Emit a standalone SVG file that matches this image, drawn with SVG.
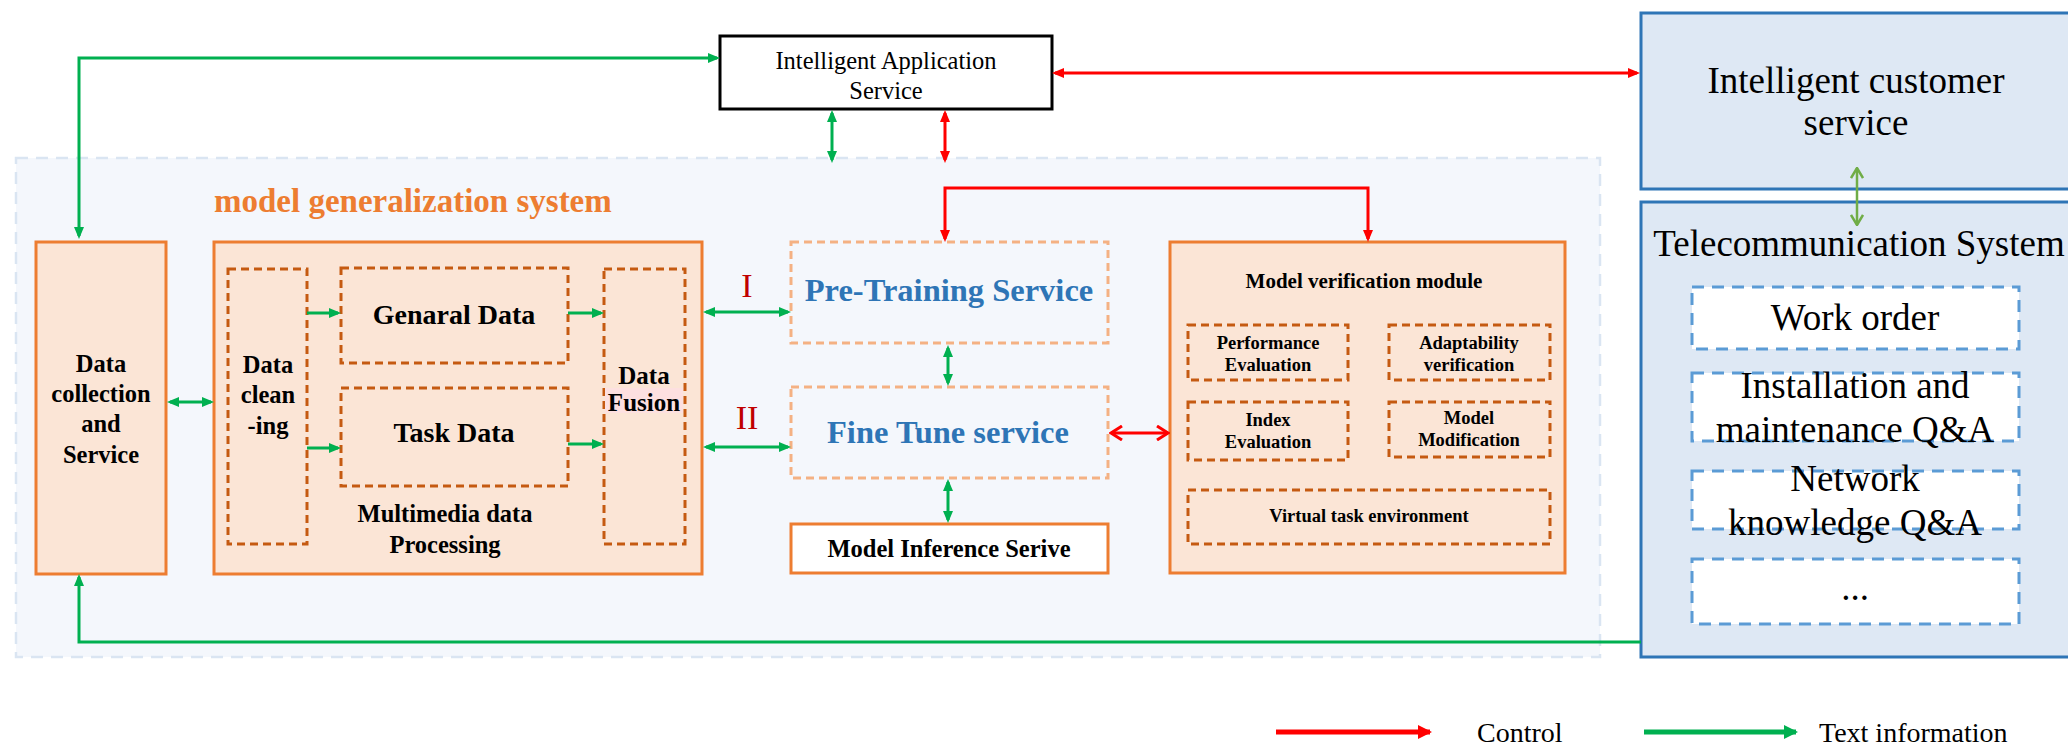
<svg xmlns="http://www.w3.org/2000/svg" width="2068" height="746" viewBox="0 0 2068 746">
  <style>
    .serif { font-family: "Liberation Serif", "Times New Roman", serif; }
    .c { text-anchor: middle; dominant-baseline: central; }
    .b { font-weight: bold; }
    .solidbox { fill: #fbe5d6; stroke: #ed7d31; stroke-width: 3; }
    .inner { fill: none; stroke: #c55a11; stroke-width: 3; stroke-dasharray: 8 5; }
    .svc { fill: none; stroke: #f4b183; stroke-width: 3; stroke-dasharray: 8 5; }
    .bluebox { fill: #dee8f4; stroke: #2e75b6; stroke-width: 3; }
    .item { fill: #ffffff; stroke: #5b9bd5; stroke-width: 3; stroke-dasharray: 12 8; }
    .g { fill: none; stroke: #00b050; stroke-width: 3; }
    .r { fill: none; stroke: #ff0000; stroke-width: 3; }
  </style>
  <defs>
    <marker id="ga" viewBox="0 0 12 10" refX="9" refY="5" markerWidth="12" markerHeight="10" markerUnits="userSpaceOnUse" orient="auto-start-reverse">
      <path d="M0,0 L12,5 L0,10 z" fill="#00b050"/>
    </marker>
    <marker id="ra" viewBox="0 0 12 10" refX="9" refY="5" markerWidth="12" markerHeight="10" markerUnits="userSpaceOnUse" orient="auto-start-reverse">
      <path d="M0,0 L12,5 L0,10 z" fill="#ff0000"/>
    </marker>
    <marker id="rv" viewBox="0 0 14 16" refX="12" refY="8" markerWidth="14" markerHeight="16" markerUnits="userSpaceOnUse" orient="auto-start-reverse">
      <path d="M1,1 L12,8 L1,15" fill="none" stroke="#ff0000" stroke-width="3"/>
    </marker>
    <marker id="lv" viewBox="0 0 12 14" refX="11" refY="7" markerWidth="12" markerHeight="14" markerUnits="userSpaceOnUse" orient="auto-start-reverse">
      <path d="M1,1 L11,7 L1,13" fill="none" stroke="#70ad47" stroke-width="2.5"/>
    </marker>
    <marker id="la_r" viewBox="0 0 14 14" refX="12" refY="7" markerWidth="14" markerHeight="14" markerUnits="userSpaceOnUse" orient="auto">
      <path d="M0,0 L14,7 L0,14 z" fill="#ff0000"/>
    </marker>
    <marker id="la_g" viewBox="0 0 14 14" refX="12" refY="7" markerWidth="14" markerHeight="14" markerUnits="userSpaceOnUse" orient="auto">
      <path d="M0,0 L14,7 L0,14 z" fill="#00b050"/>
    </marker>
  </defs>

  <rect width="2068" height="746" fill="#ffffff"/>

  <!-- model generalization system region -->
  <g id="model-generalization-system">
    <rect x="16" y="158" width="1584" height="499" fill="#f4f7fc" stroke="#dae5f2" stroke-width="2.5" stroke-dasharray="12 8"/>
    <text class="serif b" x="214" y="212" font-size="33" fill="#ed7d31">model generalization system</text>
  </g>

  <g id="intelligent-application-service">
    <rect x="720" y="36" width="332" height="73" fill="#ffffff" stroke="#000000" stroke-width="3"/>
    <text class="serif c" x="886" y="60" font-size="24.5">Intelligent Application</text>
    <text class="serif c" x="886" y="90" font-size="24.5">Service</text>
  </g>

  <g id="intelligent-customer-service">
    <rect class="bluebox" x="1641" y="13" width="440" height="176"/>
    <text class="serif c" x="1856" y="80" font-size="37">Intelligent customer</text>
    <text class="serif c" x="1856" y="122" font-size="37">service</text>
  </g>

  <g id="telecommunication-system">
    <rect class="bluebox" x="1641" y="202" width="440" height="455"/>
    <text class="serif c" x="1859" y="243" font-size="37">Telecommunication System</text>
    <rect class="item" x="1692" y="287" width="327" height="62"/>
    <rect class="item" x="1692" y="373" width="327" height="68"/>
    <rect class="item" x="1692" y="471" width="327" height="58"/>
    <rect class="item" x="1692" y="559" width="327" height="65"/>
    <text class="serif c" x="1855" y="317" font-size="37">Work order</text>
    <text class="serif c" x="1855" y="385" font-size="37">Installation and</text>
    <text class="serif c" x="1855" y="429" font-size="37">maintenance Q&amp;A</text>
    <text class="serif c" x="1855" y="478" font-size="37">Network</text>
    <text class="serif c" x="1855" y="522" font-size="37">knowledge Q&amp;A</text>
    <text class="serif" x="1855" y="600" font-size="37" text-anchor="middle">...</text>
  </g>

  <g id="data-collection">
    <rect class="solidbox" x="36" y="242" width="130" height="332"/>
    <text class="serif b c" x="101" y="363" font-size="24.5">Data</text>
    <text class="serif b c" x="101" y="393" font-size="24.5">collection</text>
    <text class="serif b c" x="101" y="423" font-size="24.5">and</text>
    <text class="serif b c" x="101" y="454" font-size="24.5">Service</text>
  </g>

  <g id="multimedia-processing">
    <rect class="solidbox" x="214" y="242" width="488" height="332"/>
    <text class="serif b c" x="445" y="513" font-size="24.5">Multimedia data</text>
    <text class="serif b c" x="445" y="544" font-size="24.5">Processing</text>
  </g>

  <g id="data-cleaning">
    <rect class="inner" x="228" y="269" width="79" height="275"/>
    <text class="serif b c" x="268" y="364" font-size="24.5">Data</text>
    <text class="serif b c" x="268" y="394" font-size="24.5">clean</text>
    <text class="serif b c" x="268" y="425" font-size="24.5">-ing</text>
  </g>

  <g id="general-data">
    <rect class="inner" x="341" y="268" width="227" height="95"/>
    <text class="serif b c" x="454" y="314" font-size="28">Genaral Data</text>
  </g>

  <g id="task-data">
    <rect class="inner" x="341" y="388" width="227" height="98"/>
    <text class="serif b c" x="454" y="432" font-size="28">Task Data</text>
  </g>

  <g id="data-fusion">
    <rect class="inner" x="604" y="269" width="81" height="275"/>
    <rect x="605" y="388" width="78" height="25" fill="#fde0e0"/>
    <text class="serif b c" x="644" y="375" font-size="25">Data</text>
    <text class="serif b c" x="644" y="402" font-size="25">Fusion</text>
  </g>

  <g id="pre-training">
    <rect class="svc" x="791" y="242" width="317" height="101"/>
    <text class="serif b c" x="949" y="290" font-size="32.5" fill="#2e75b6">Pre-Training Service</text>
  </g>

  <g id="fine-tune">
    <rect class="svc" x="791" y="387" width="317" height="91"/>
    <text class="serif b c" x="948" y="432" font-size="32.5" fill="#2e75b6">Fine Tune service</text>
  </g>

  <g id="model-inference">
    <rect x="791" y="524" width="317" height="49" fill="#ffffff" stroke="#ed7d31" stroke-width="3"/>
    <text class="serif b c" x="949" y="548" font-size="24.5">Model Inference Serive</text>
  </g>

  <g id="stage-labels">
    <text class="serif c" x="747" y="285" font-size="34" fill="#c00000">I</text>
    <text class="serif c" x="747" y="417" font-size="34" fill="#c00000">II</text>
  </g>

  <g id="model-verification">
    <rect class="solidbox" x="1170" y="242" width="395" height="331"/>
    <text class="serif b c" x="1364" y="281" font-size="21">Model verification module</text>
    <rect class="inner" x="1188" y="325" width="160" height="55"/>
    <rect class="inner" x="1389" y="325" width="161" height="55"/>
    <rect class="inner" x="1188" y="402" width="160" height="58"/>
    <rect class="inner" x="1389" y="402" width="161" height="55"/>
    <rect class="inner" x="1188" y="490" width="362" height="54"/>
    <text class="serif b c" x="1268" y="343" font-size="18.5">Performance</text>
    <text class="serif b c" x="1268" y="365" font-size="18.5">Evaluation</text>
    <text class="serif b c" x="1469" y="343" font-size="18.5">Adaptability</text>
    <text class="serif b c" x="1469" y="365" font-size="18.5">verification</text>
    <text class="serif b c" x="1268" y="420" font-size="18.5">Index</text>
    <text class="serif b c" x="1268" y="442" font-size="18.5">Evaluation</text>
    <text class="serif b c" x="1469" y="418" font-size="18.5">Model</text>
    <text class="serif b c" x="1469" y="440" font-size="18.5">Modification</text>
    <text class="serif b c" x="1369" y="516" font-size="18.5">Virtual task environment</text>
  </g>

  <!-- connectors -->
  <g id="connectors">
    <!-- text information flows -->
    <path class="g" d="M717,58 H79 V236" marker-start="url(#ga)" marker-end="url(#ga)"/>
    <path class="g" d="M1641,642 H79 V577" marker-end="url(#ga)"/>
    <path class="g" d="M832,113 V160" marker-start="url(#ga)" marker-end="url(#ga)"/>
    <path class="g" d="M170,402 H211" marker-start="url(#ga)" marker-end="url(#ga)"/>
    <path class="g" d="M307,313 H338" marker-end="url(#ga)"/>
    <path class="g" d="M307,448 H338" marker-end="url(#ga)"/>
    <path class="g" d="M568,313 H601" marker-end="url(#ga)"/>
    <path class="g" d="M568,444 H601" marker-end="url(#ga)"/>
    <path class="g" d="M706,312 H788" marker-start="url(#ga)" marker-end="url(#ga)"/>
    <path class="g" d="M706,447 H788" marker-start="url(#ga)" marker-end="url(#ga)"/>
    <path class="g" d="M948,348 V383" marker-start="url(#ga)" marker-end="url(#ga)"/>
    <path class="g" d="M948,482 V520" marker-start="url(#ga)" marker-end="url(#ga)"/>
    <path d="M1857,168 V225" fill="none" stroke="#70ad47" stroke-width="2.5" marker-start="url(#lv)" marker-end="url(#lv)"/>
    <!-- control flows -->
    <path class="r" d="M1055,73 H1637" marker-start="url(#ra)" marker-end="url(#ra)"/>
    <path class="r" d="M945,113 V160" marker-start="url(#ra)" marker-end="url(#ra)"/>
    <path class="r" d="M945,239 V188 H1368 V239" marker-start="url(#ra)" marker-end="url(#ra)"/>
    <path class="r" d="M1111,433 H1168" marker-start="url(#rv)" marker-end="url(#rv)"/>
  </g>

  <g id="legend">
    <path d="M1276,732 H1430" fill="none" stroke="#ff0000" stroke-width="5" marker-end="url(#la_r)"/>
    <text class="serif" x="1477" y="742" font-size="28">Control</text>
    <path d="M1644,732 H1796" fill="none" stroke="#00b050" stroke-width="5" marker-end="url(#la_g)"/>
    <text class="serif" x="1819" y="742" font-size="28">Text information</text>
  </g>
</svg>
